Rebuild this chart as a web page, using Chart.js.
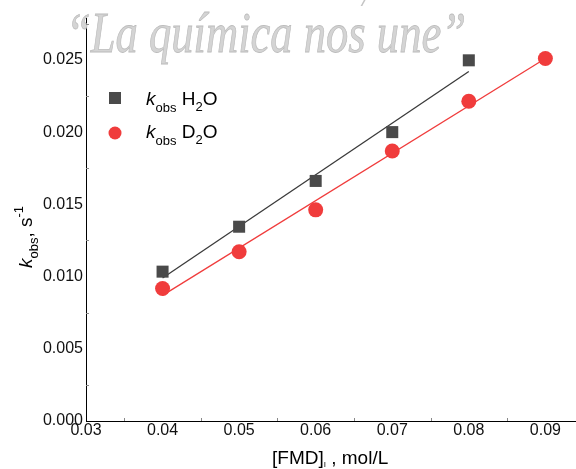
<!DOCTYPE html>
<html>
<head>
<meta charset="utf-8">
<script src="https://cdn.jsdelivr.net/npm/chart.js@4.4.0/dist/chart.umd.min.js"></script>
<style>
  html, body { margin: 0; padding: 0; background: #fff; }
  #wrap { width: 576px; height: 469px; position: relative; }
</style>
</head>
<body>
<div id="wrap"><canvas id="kobsChart"></canvas></div>
<script>
// [FMD]I values (mol/L)
const concH2O = [0.04, 0.05, 0.06, 0.07, 0.08];
const kobsH2O = [0.01034, 0.01345, 0.01662, 0.0200, 0.02497];
const concD2O = [0.04, 0.05, 0.06, 0.07, 0.08, 0.09];
const kobsD2O = [0.00917, 0.01172, 0.01462, 0.01869, 0.02214, 0.0251];

// linear fit lines, end points
const fitH2OX = [0.04, 0.08];
const fitH2OY = [0.0099, 0.0242];
const fitD2OX = [0.04, 0.09];
const fitD2OY = [0.0087, 0.0251];

const minorX = [0.035, 0.045, 0.055, 0.065, 0.075, 0.085];
const minorY = [0.0025, 0.0075, 0.0125, 0.0175, 0.0225, 0.0275];

const grey = '#4a4a4a';
const red = '#f03c3c';

function pts(xs, ys) {
    return xs.map((x, i) => ({ x: x, y: ys[i] }));
}

// draw a run of [text, font, dy] pieces
function drawRuns(ctx, x, y, runs) {
    runs.forEach(r => {
        ctx.font = r[1];
        ctx.fillText(r[0], x, y + r[2]);
        x += ctx.measureText(r[0]).width;
    });
    return x;
}

const decor = {
    id: 'decor',
    beforeDatasetsDraw(chart) {
        const ctx = chart.ctx;
        ctx.save();
        // watermark
        const wm = '\u201CLa química nos une\u201D';
        ctx.font = 'italic 57px "Liberation Serif", serif';
        const w = ctx.measureText(wm).width;
        ctx.translate(66, 52);
        ctx.scale(400 / w, 1);
        ctx.fillStyle = '#d4d4d4';
        ctx.strokeStyle = '#bcbcbc';
        ctx.lineWidth = 0.8;
        ctx.textBaseline = 'alphabetic';
        ctx.fillText(wm, 0, 0);
        ctx.strokeText(wm, 0, 0);
        ctx.restore();

        ctx.save();
        ctx.font = 'italic 30px "Liberation Serif", serif';
        ctx.fillStyle = '#c4c4c4';
        ctx.fillText('/', 362, 6);
        ctx.restore();
    },
    afterDraw(chart) {
        const ctx = chart.ctx;
        const xs = chart.scales.x, ys = chart.scales.y;
        const area = chart.chartArea;
        ctx.save();
        // inward minor ticks
        ctx.strokeStyle = '#888';
        ctx.lineWidth = 1;
        minorX.forEach(v => {
            const px = Math.round(xs.getPixelForValue(v)) + 0.5;
            ctx.beginPath();
            ctx.moveTo(px, area.bottom);
            ctx.lineTo(px, area.bottom - 3);
            ctx.stroke();
        });
        minorY.forEach(v => {
            const py = Math.round(ys.getPixelForValue(v)) + 0.5;
            ctx.beginPath();
            ctx.moveTo(area.left, py);
            ctx.lineTo(area.left + 3, py);
            ctx.stroke();
        });

        ctx.fillStyle = '#000';
        ctx.textBaseline = 'alphabetic';
        const big = '19px "Liberation Sans", Arial, sans-serif';
        const bigIt = 'italic 19px "Liberation Sans", Arial, sans-serif';
        const small = '13px "Liberation Sans", Arial, sans-serif';

        // legend
        ctx.fillStyle = grey;
        ctx.fillRect(109, 92, 12, 12);
        ctx.fillStyle = red;
        ctx.beginPath();
        ctx.arc(115, 133, 6.5, 0, Math.PI * 2);
        ctx.fill();
        ctx.fillStyle = '#000';
        drawRuns(ctx, 146, 105, [['k', bigIt, 0], ['obs', small, 7], [' H', big, 0], ['2', small, 6], ['O', big, 0]]);
        drawRuns(ctx, 146, 138, [['k', bigIt, 0], ['obs', small, 7], [' D', big, 0], ['2', small, 6], ['O', big, 0]]);

        // y title
        ctx.save();
        ctx.translate(32, 268);
        ctx.rotate(-Math.PI / 2);
        drawRuns(ctx, 0, 0, [['k', bigIt, 0], ['obs', small, 6], [', s', big, 0], ['-1', small, -9]]);
        ctx.restore();

        // x title
        drawRuns(ctx, 272, 464, [['[FMD]', big, 0], ['I', '8px "Liberation Sans", Arial, sans-serif', 3], [' , mol/L', big, 0]]);
        ctx.restore();
    }
};

new Chart(document.getElementById('kobsChart'), {
    type: 'scatter',
    data: {
        datasets: [
            {
                label: 'fit H2O',
                data: pts(fitH2OX, fitH2OY),
                showLine: true,
                borderColor: '#3a3a3a',
                borderWidth: 1.3,
                pointRadius: 0,
                order: 3
            },
            {
                label: 'fit D2O',
                data: pts(fitD2OX, fitD2OY),
                showLine: true,
                borderColor: red,
                borderWidth: 1.3,
                pointRadius: 0,
                order: 2
            },
            {
                label: 'kobs H2O',
                data: pts(concH2O, kobsH2O),
                pointStyle: 'rect',
                pointRadius: 8.5,
                backgroundColor: grey,
                borderColor: grey,
                borderWidth: 0,
                order: 1
            },
            {
                label: 'kobs D2O',
                data: pts(concD2O, kobsD2O),
                pointStyle: 'circle',
                pointRadius: 7.5,
                backgroundColor: red,
                borderColor: red,
                borderWidth: 0,
                order: 0
            }
        ]
    },
    options: {
        responsive: true,
        maintainAspectRatio: false,
        animation: false,
        layout: { autoPadding: false, padding: { top: 18, right: 0, left: 0, bottom: 0 } },
        plugins: {
            legend: { display: false },
            tooltip: { enabled: false }
        },
        scales: {
            x: {
                type: 'linear',
                min: 0.03,
                max: 0.094,
                grid: { display: false, drawTicks: false },
                border: { display: true, color: '#000', width: 1 },
                ticks: {
                    stepSize: 0.01,
                    includeBounds: false,
                    padding: 0,
                    color: '#111',
                    font: { family: '"Liberation Sans", Arial, sans-serif', size: 16 },
                    callback: v => v.toFixed(2)
                },
                afterFit: s => { s.height = 48; }
            },
            y: {
                type: 'linear',
                min: 0,
                max: 0.0279,
                grid: { display: false, drawTicks: false },
                border: { display: true, color: '#000', width: 1 },
                ticks: {
                    stepSize: 0.005,
                    includeBounds: false,
                    padding: 3,
                    color: '#111',
                    font: { family: '"Liberation Sans", Arial, sans-serif', size: 16 },
                    callback: v => v.toFixed(3)
                },
                afterFit: s => { s.width = 86; }
            }
        }
    },
    plugins: [decor]
});
</script>
</body>
</html>
